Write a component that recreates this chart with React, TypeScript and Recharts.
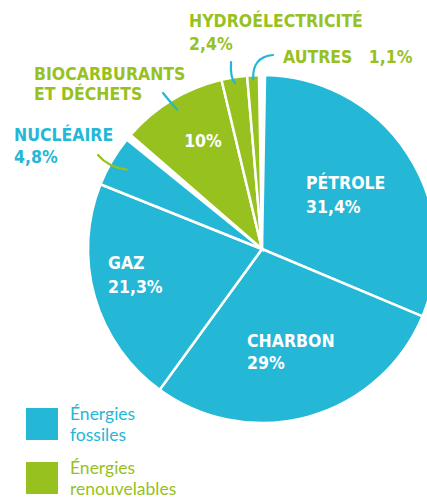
import { PieChart, Pie, Cell, Legend } from 'recharts';

const BLUE = '#24b7d6';
const GREEN = '#97c11f';

// fossil group then renewable group, clockwise from the top
const fossilNames = ['PÉTROLE', 'CHARBON', 'GAZ', 'NUCLÉAIRE'];
const fossilValues = [31.4, 29, 21.3, 4.8];
const renewNames = ['BIOCARBURANTS', 'HYDROÉLECTRICITÉ', 'AUTRES'];
const renewValues = [10, 2.4, 1.1];
const legendLabels = [
  ['Énergies', 'fossiles'],
  ['Énergies', 'renouvelables'],
];

const fossilData = fossilNames.map((name, i) => ({ name, value: fossilValues[i] }));
const renewData = renewNames.map((name, i) => ({ name, value: renewValues[i] }));

const fmt = (v: number) => `${String(v).replace('.', ',')}%`;

const CX = 262;
const CY = 249;
const R = 174;
const GAP = 2; // degrees between the two groups
const total = [...fossilValues, ...renewValues].reduce((a, b) => a + b, 0);
const fossilSpan = ((360 - 2 * GAP) * fossilValues.reduce((a, b) => a + b, 0)) / total;
const fossilStart = 90 - GAP / 2;
const fossilEnd = fossilStart - fossilSpan;
const renewStart = fossilEnd - GAP;
const renewEnd = 90 - 360 + GAP / 2;

const LABEL_FONT = "'DejaVu Sans Condensed', 'DejaVu Sans', sans-serif";

// text layout relative to pie centre
type Layout = {
  x: number;
  y: number;
  lh: number;
  color: string;
  lines: (v: number) => string[];
  leader?: { r: number; ctrl: [number, number]; to: [number, number]; color: string };
};

const layout: Record<string, Layout> = {
  'PÉTROLE': { x: 44, y: -60, lh: 24, color: '#fff', lines: (v) => ['PÉTROLE', fmt(v)] },
  'CHARBON': { x: -15, y: 98, lh: 22, color: '#fff', lines: (v) => ['CHARBON', fmt(v)] },
  'GAZ': { x: -154, y: 20, lh: 24, color: '#fff', lines: (v) => ['GAZ', fmt(v)] },
  'NUCLÉAIRE': {
    x: -248, y: -108, lh: 22, color: BLUE, lines: (v) => ['NUCLÉAIRE', fmt(v)],
    leader: { r: R - 17, ctrl: [-154, -82], to: [-164, -94], color: GREEN },
  },
  'BIOCARBURANTS': {
    x: -228, y: -169, lh: 20, color: GREEN, lines: () => ['BIOCARBURANTS', 'ET DÉCHETS'],
    leader: { r: R - 11, ctrl: [-92, -147], to: [-99, -156], color: BLUE },
  },
  'HYDROÉLECTRICITÉ': {
    x: -73, y: -222, lh: 23, color: GREEN, lines: (v) => ['HYDROÉLECTRICITÉ', fmt(v)],
    leader: { r: R - 6, ctrl: [-32, -171], to: [-31, -187], color: BLUE },
  },
  'AUTRES': {
    x: 21, y: -186, lh: 0, color: GREEN, lines: (v) => ['AUTRES\u00a0\u00a0\u00a0' + fmt(v)],
    leader: { r: R - 4, ctrl: [-10, -192], to: [11, -194], color: BLUE },
  },
};

const RAD = Math.PI / 180;

const renderLabel = (props: any) => {
  const { cx, cy, midAngle, outerRadius, payload, value } = props;
  const name = payload?.name ?? props.name;
  const l = layout[name];
  if (!l) return null;
  const lines = l.lines(value);
  let leader = null;
  if (l.leader) {
    const sx = cx + l.leader.r * Math.cos(-midAngle * RAD) * (outerRadius / R);
    const sy = cy + l.leader.r * Math.sin(-midAngle * RAD) * (outerRadius / R);
    const d = `M${sx},${sy} Q${cx + l.leader.ctrl[0]},${cy + l.leader.ctrl[1]} ${cx + l.leader.to[0]},${cy + l.leader.to[1]}`;
    leader = <path d={d} fill="none" stroke={l.leader.color} strokeWidth={2.2} strokeLinecap="round" />;
  }
  return (
    <g key={name}>
      {leader}
      <text x={cx + l.x} y={cy + l.y} fill={l.color} fontFamily={LABEL_FONT} fontWeight="bold" fontSize={17.5}>
        {lines.map((t, i) => (
          <tspan key={i} x={cx + l.x} dy={i === 0 ? 0 : l.lh}>
            {t}
          </tspan>
        ))}
      </text>
      {/* the biofuel share is written inside its slice */}
      {name === 'BIOCARBURANTS' && (
        <text x={cx - 59} y={cy - 102} fill="#fff" textAnchor="middle" fontFamily={LABEL_FONT} fontWeight="bold" fontSize={17.5}>
          {fmt(value)}
        </text>
      )}
    </g>
  );
};

const LegendBox = () => (
  <div style={{ fontFamily: 'Lato, sans-serif', fontSize: 17.5, lineHeight: '21px' }}>
    {legendLabels.map((lines, i) => (
      <div key={i} style={{ display: 'flex', alignItems: 'flex-start', marginBottom: i === 0 ? 12 : 0 }}>
        <div style={{ width: 32, height: 32, marginTop: 5, background: i === 0 ? BLUE : GREEN }} />
        <div style={{ marginLeft: 12, color: i === 0 ? BLUE : GREEN }}>
          {lines.map((t) => (
            <div key={t}>{t}</div>
          ))}
        </div>
      </div>
    ))}
  </div>
);

export default function App() {
  return (
    <div style={{ position: 'absolute', left: 0, top: 0, width: 427, height: 498, background: '#fff', overflow: 'hidden' }}>
      <PieChart width={427} height={498} margin={{ top: 0, right: 0, bottom: 0, left: 0 }}>
        <Pie
          data={fossilData}
          dataKey="value"
          nameKey="name"
          cx={CX}
          cy={CY}
          outerRadius={R}
          startAngle={fossilStart}
          endAngle={fossilEnd}
          stroke="#fff"
          strokeWidth={2.5}
          label={renderLabel}
          labelLine={false}
          isAnimationActive={false}
        >
          {fossilData.map((d) => (
            <Cell key={d.name} fill={BLUE} />
          ))}
        </Pie>
        <Pie
          data={renewData}
          dataKey="value"
          nameKey="name"
          cx={CX}
          cy={CY}
          outerRadius={R}
          startAngle={renewStart}
          endAngle={renewEnd}
          stroke="#fff"
          strokeWidth={2.5}
          label={renderLabel}
          labelLine={false}
          isAnimationActive={false}
        >
          {renewData.map((d) => (
            <Cell key={d.name} fill={GREEN} />
          ))}
        </Pie>
        <Legend
          content={() => <LegendBox />}
          wrapperStyle={{ position: 'absolute', left: 26, top: 403, width: 200, height: 95 }}
        />
      </PieChart>
    </div>
  );
}
